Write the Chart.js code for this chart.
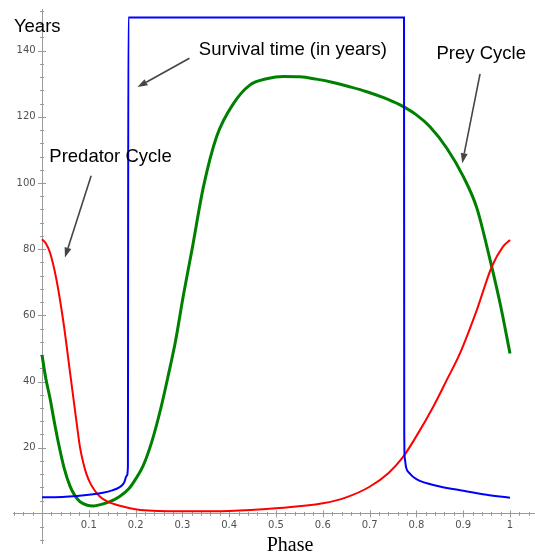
<!DOCTYPE html>
<html>
<head>
<meta charset="utf-8">
<script src="https://cdn.jsdelivr.net/npm/chart.js@4"></script>
<style>
  html, body { margin: 0; padding: 0; background: #fff; }
  #wrap { width: 535px; height: 553px; }
</style>
</head>
<body>
<div id="wrap"><canvas id="cycleChart"></canvas></div>
<script>
// Survival time (blue)
const survivalPhase = [0, 0.05, 0.1, 0.13, 0.15, 0.165, 0.175, 0.181, 0.1835, 0.1845,
  0.7735, 0.774, 0.775, 0.778, 0.786, 0.8, 0.85, 0.9, 0.95, 1];
const survivalYears = [5.0, 5.2, 5.8, 6.4, 7.1, 8.0, 9.3, 11.5, 14, 150,
  150, 25, 17, 14, 12.2, 10.5, 8.3, 7.0, 5.8, 4.9];

// Predator cycle (red)
const predatorPhase = [0, 0.008, 0.017, 0.031, 0.046, 0.06, 0.074, 0.081, 0.088, 0.095,
  0.103, 0.113, 0.124, 0.14, 0.16, 0.21, 0.3, 0.4, 0.5, 0.6, 0.65, 0.7, 0.74, 0.772,
  0.8, 0.836, 0.865, 0.893, 0.929, 0.961, 0.985, 1];
const predatorVals = [83, 81.8, 79, 70.7, 57.7, 42.6, 27.5, 20.3, 15.5, 12,
  9.3, 7.0, 5.2, 3.7, 2.7, 1.2, 0.8, 0.9, 1.7, 3.2, 5.0, 8.2, 12.3, 17.3,
  23.5, 32.4, 40.5, 48.5, 61.6, 74.7, 80.8, 82.8];

// Prey cycle (green)
const preyPhase = [0, 0.008, 0.017, 0.026, 0.035, 0.047, 0.06, 0.07, 0.081, 0.095,
  0.11, 0.125, 0.145, 0.165, 0.185, 0.2, 0.216, 0.235, 0.254, 0.27,
  0.285, 0.302, 0.32, 0.345, 0.373, 0.409, 0.444, 0.48, 0.516, 0.551,
  0.586, 0.622, 0.66, 0.694, 0.73, 0.765, 0.8, 0.829, 0.865, 0.9,
  0.929, 0.957, 0.979, 1];
const preyVals = [48, 41, 35, 28, 21.5, 14, 8.3, 5.6, 3.7, 2.7,
  2.4, 2.8, 3.7, 5.2, 7.5, 10.5, 14.5, 22, 32, 42,
  52, 66, 79.5, 98.9, 114, 124, 129.6, 131.5, 132.2, 132.1,
  131.4, 130.4, 129.0, 127.6, 125.8, 123.6, 120.6, 117.0, 110.5, 102,
  92.5, 77, 63.5, 48.5];

// Labelled ticks
const phaseTicks = [0.1, 0.2, 0.3, 0.4, 0.5, 0.6, 0.7, 0.8, 0.9, 1];
const yearTicks = [20, 40, 60, 80, 100, 120, 140];

// Text callouts, in data coordinates
const notes = [
  { text: "Survival time (in years)", at: [0.335, 138.7], from: [0.315, 137.7], to: [0.204, 129.0] },
  { text: "Prey Cycle", at: [0.843, 137.4], from: [0.936, 133.0], to: [0.898, 106.0] },
  { text: "Predator Cycle", at: [0.0156, 106.5], from: [0.105, 102.2], to: [0.049, 77.5] }
];

const toPoints = (xs, ys) => xs.map((x, i) => ({ x: x, y: ys[i] }));
const near = (v, list) => list.some(t => Math.abs(t - v) < 1e-6);

const AXIS_COLOR = "#9a9a9a";

// tick marks crossing the axes, plus titles and arrows
const decor = {
  id: "decor",
  beforeDatasetsDraw(chart) {
    const { ctx, scales: { x, y } } = chart;
    const x0 = x.getPixelForValue(0);
    const y0 = y.getPixelForValue(0);
    ctx.save();
    ctx.strokeStyle = AXIS_COLOR;
    ctx.lineWidth = 1;
    ctx.beginPath();
    x.ticks.forEach(t => {
      if (Math.abs(t.value) < 1e-9) return;
      const px = Math.round(x.getPixelForValue(t.value)) + 0.5;
      const len = near(t.value, phaseTicks) ? 3.5 : 2;
      ctx.moveTo(px, y0 - len);
      ctx.lineTo(px, y0 + len);
    });
    y.ticks.forEach(t => {
      if (Math.abs(t.value) < 1e-9) return;
      const py = Math.round(y.getPixelForValue(t.value)) + 0.5;
      const len = near(t.value, yearTicks) ? 4 : 2;
      ctx.moveTo(x0 - len, py);
      ctx.lineTo(x0 + len, py);
    });
    ctx.stroke();
    ctx.restore();
  },
  afterDraw(chart) {
    const { ctx, scales: { x, y } } = chart;
    const px = v => x.getPixelForValue(v);
    const py = v => y.getPixelForValue(v);
    ctx.save();
    ctx.fillStyle = "#000";
    ctx.textBaseline = "alphabetic";

    ctx.font = "18.5px 'Liberation Sans', Arial, sans-serif";
    ctx.textAlign = "left";
    ctx.fillText("Years", px(-0.06), py(145.7));

    ctx.font = "20px 'Liberation Serif', 'Times New Roman', serif";
    ctx.textAlign = "center";
    ctx.fillText("Phase", px(0.53), py(-11.2));

    ctx.font = "18.5px 'Liberation Sans', Arial, sans-serif";
    ctx.textAlign = "left";
    notes.forEach(n => {
      ctx.fillStyle = "#000";
      ctx.fillText(n.text, px(n.at[0]), py(n.at[1]));

      const x1 = px(n.from[0]), y1 = py(n.from[1]);
      const x2 = px(n.to[0]), y2 = py(n.to[1]);
      const ang = Math.atan2(y2 - y1, x2 - x1);
      const head = 10, half = 3.5;
      const bx = x2 - head * Math.cos(ang), by = y2 - head * Math.sin(ang);
      ctx.strokeStyle = "#454545";
      ctx.lineWidth = 1.6;
      ctx.beginPath();
      ctx.moveTo(x1, y1);
      ctx.lineTo(bx, by);
      ctx.stroke();
      ctx.fillStyle = "#454545";
      ctx.beginPath();
      ctx.moveTo(x2, y2);
      ctx.lineTo(bx + half * Math.sin(ang), by - half * Math.cos(ang));
      ctx.lineTo(bx - half * Math.sin(ang), by + half * Math.cos(ang));
      ctx.closePath();
      ctx.fill();
    });
    ctx.restore();
  }
};

function initChart() {
  const ctx = document.getElementById("cycleChart").getContext("2d");
  return new Chart(ctx, {
    type: "line",
    data: {
      datasets: [
        { label: "Survival time", data: toPoints(survivalPhase, survivalYears), borderColor: "#0000ff", borderWidth: 2, cubicInterpolationMode: "monotone" },
        { label: "Predator", data: toPoints(predatorPhase, predatorVals), borderColor: "#ff0000", borderWidth: 2, cubicInterpolationMode: "monotone" },
        { label: "Prey", data: toPoints(preyPhase, preyVals), borderColor: "#008000", borderWidth: 3, cubicInterpolationMode: "monotone" }
      ]
    },
    options: {
      responsive: true,
      maintainAspectRatio: false,
      animation: false,
      events: [],
      // axes sit on the zero lines, so the plot area is set by padding alone
      layout: { padding: { top: 9, left: 13, right: 0, bottom: 10 } },
      elements: { point: { radius: 0 }, line: { fill: false } },
      plugins: { legend: { display: false }, tooltip: { enabled: false } },
      scales: {
        x: {
          type: "linear",
          position: { y: 0 },
          min: -0.062,
          max: 1.0534,
          grid: { display: true, drawOnChartArea: false, drawTicks: false },
          border: { display: true, color: AXIS_COLOR, width: 1 },
          ticks: {
            stepSize: 0.02,
            includeBounds: false,
            autoSkip: false,
            maxRotation: 0,
            padding: 6,
            color: "#505050",
            font: { family: "'DejaVu Sans', sans-serif", size: 10 },
            callback: v => near(v, phaseTicks) ? String(Math.round(v * 10) / 10) : ""
          }
        },
        y: {
          type: "linear",
          position: { x: 0 },
          min: -8.8,
          max: 152.6,
          grid: { display: true, drawOnChartArea: false, drawTicks: false },
          border: { display: true, color: AXIS_COLOR, width: 1 },
          ticks: {
            stepSize: 4,
            includeBounds: false,
            autoSkip: false,
            color: "#505050",
            font: { family: "'DejaVu Sans', sans-serif", size: 10 },
            // trailing spaces keep the labels clear of the tick marks
            callback: v => near(v, yearTicks) ? v + "  " : ""
          }
        }
      }
    },
    plugins: [decor]
  });
}

window.addEventListener("DOMContentLoaded", () => {
  initChart();
});
</script>
</body>
</html>
